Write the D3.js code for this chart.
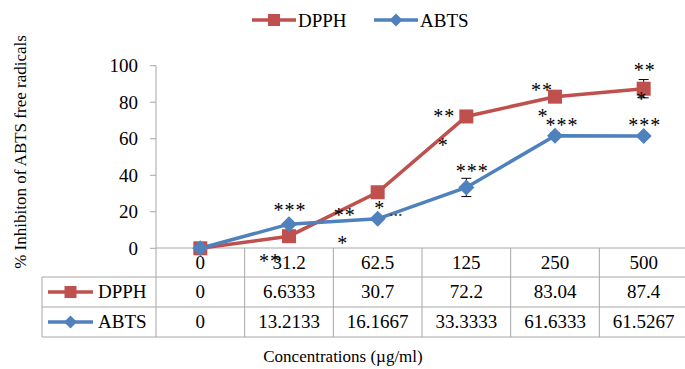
<!DOCTYPE html>
<html>
<head>
<meta charset="utf-8">
<script src="https://cdn.jsdelivr.net/npm/d3@7"></script>
<style>
  body { margin: 0; background: #fff; }
  svg text { font-family: Liberation Serif, DejaVu Serif, Times New Roman, serif; }
</style>
</head>
<body>
<div id="chart"></div>
<script>
// data
var categories = ["0", "31.2", "62.5", "125", "250", "500"];
var dpph = [0, 6.6333, 30.7, 72.2, 83.04, 87.4];
var abts = [0, 13.2133, 16.1667, 33.3333, 61.6333, 61.5267];
var dpphErr = [0.5, 0.5, 0.5, 0.5, 1, 5];
var abtsErr = [0.5, 0.5, 0.5, 5, 1.5, 1];
var dpphLabels = ["0", "6.6333", "30.7", "72.2", "83.04", "87.4"];
var abtsLabels = ["0", "13.2133", "16.1667", "33.3333", "61.6333", "61.5267"];
var yTicks = [0, 20, 40, 60, 80, 100];

// significance stars: category index, x shift, value level
var stars = [
  { i: 1, dx: -19, v: -5.5, t: "**" },
  { i: 1, dx: 1, v: 22.5, t: "***" },
  { i: 2, dx: -33, v: 19.8, t: "**" },
  { i: 2, dx: -35, v: 4.4, t: "*" },
  { i: 2, dx: 2, v: 23.6, t: "*" },
  { i: 3, dx: -22, v: 74.2, t: "**" },
  { i: 3, dx: -23, v: 58.2, t: "*" },
  { i: 3, dx: 6, v: 44, t: "***" },
  { i: 4, dx: -13, v: 88.5, t: "**" },
  { i: 4, dx: -12, v: 74.2, t: "*" },
  { i: 4, dx: 7, v: 69.2, t: "***" },
  { i: 5, dx: 1, v: 99.5, t: "**" },
  { i: 5, dx: -2, v: 83.5, t: "*" },
  { i: 5, dx: 1, v: 69.2, t: "***" }
];

var svgWidth = 685;
var svgHeight = 369;
var red = "#C0504D", blue = "#4F81BD", grid = "#A6A6A6";

var svg = d3.select("#chart")
  .append("svg")
  .attr("width", svgWidth)
  .attr("height", svgHeight);

var left = 156, right = 688, tableLeft = 42;
var rowTop = 248, row1 = 277, row2 = 307, row3 = 337;

var x = d3.scaleBand().domain(categories).range([left, right]);
var y = d3.scaleLinear().domain([0, 100]).range([248.3, 65.7]);
var cx = function(i) { return x(categories[i]) + x.bandwidth() / 2; };

// y axis
svg.append("line")
  .attr("x1", left).attr("x2", left)
  .attr("y1", y(100)).attr("y2", row3)
  .attr("stroke", grid);

svg.selectAll(".ytick")
  .data(yTicks)
  .enter()
  .append("line")
  .attr("x1", left - 6).attr("x2", left)
  .attr("y1", d => y(d)).attr("y2", d => y(d))
  .attr("stroke", grid);

svg.selectAll(".ylab")
  .data(yTicks)
  .enter()
  .append("text")
  .attr("x", 138)
  .attr("y", d => y(d) + 6.5)
  .attr("text-anchor", "end")
  .attr("font-size", 19)
  .text(d => d);

// data table
svg.append("line")
  .attr("x1", left).attr("x2", right)
  .attr("y1", rowTop).attr("y2", rowTop)
  .attr("stroke", grid);

[row1, row2, row3].forEach(function(r) {
  svg.append("line")
    .attr("x1", tableLeft).attr("x2", right)
    .attr("y1", r).attr("y2", r)
    .attr("stroke", grid);
});

svg.append("line")
  .attr("x1", tableLeft).attr("x2", tableLeft)
  .attr("y1", row1).attr("y2", row3)
  .attr("stroke", grid);

svg.selectAll(".vcell")
  .data(categories.slice(1))
  .enter()
  .append("line")
  .attr("x1", d => x(d)).attr("x2", d => x(d))
  .attr("y1", rowTop).attr("y2", row3)
  .attr("stroke", grid);

svg.selectAll(".cat")
  .data(categories)
  .enter()
  .append("text")
  .attr("x", (d, i) => cx(i))
  .attr("y", 268.5)
  .attr("text-anchor", "middle")
  .attr("font-size", 19)
  .text(d => d);

svg.selectAll(".dcell")
  .data(dpphLabels)
  .enter()
  .append("text")
  .attr("x", (d, i) => cx(i))
  .attr("y", 298)
  .attr("text-anchor", "middle")
  .attr("font-size", 19)
  .text(d => d);

svg.selectAll(".acell")
  .data(abtsLabels)
  .enter()
  .append("text")
  .attr("x", (d, i) => cx(i))
  .attr("y", 328)
  .attr("text-anchor", "middle")
  .attr("font-size", 19)
  .text(d => d);

// little legend keys (used in the table and in the top legend)
function square(g, px, py, s) {
  g.append("rect")
    .attr("x", px - s / 2).attr("y", py - s / 2)
    .attr("width", s).attr("height", s)
    .attr("fill", red);
}
function diamond(g, px, py, s) {
  g.append("path")
    .attr("d", `M${px},${py - s / 2}L${px + s / 2},${py}L${px},${py + s / 2}L${px - s / 2},${py}Z`)
    .attr("fill", blue);
}
function key(g, x1, x2, py, color, marker, s) {
  g.append("line")
    .attr("x1", x1).attr("x2", x2)
    .attr("y1", py).attr("y2", py)
    .attr("stroke", color).attr("stroke-width", 3.5);
  marker(g, (x1 + x2) / 2, py, s);
}

key(svg, 48, 93, 292, red, square, 12);
svg.append("text").attr("x", 98).attr("y", 298).attr("font-size", 19).text("DPPH");
key(svg, 48, 93, 322, blue, diamond, 13);
svg.append("text").attr("x", 98).attr("y", 328).attr("font-size", 19).text("ABTS");

// top legend
key(svg, 252, 296, 20, red, square, 12);
svg.append("text").attr("x", 298).attr("y", 27).attr("font-size", 19).text("DPPH");
key(svg, 374, 418, 20, blue, diamond, 13);
svg.append("text").attr("x", 420).attr("y", 27).attr("font-size", 19).text("ABTS");

// lines
var line = d3.line()
  .x((d, i) => cx(i))
  .y(d => y(d));

svg.append("path")
  .datum(dpph)
  .attr("d", line)
  .attr("fill", "none")
  .attr("stroke", red)
  .attr("stroke-width", 3.5);

svg.append("path")
  .datum(abts)
  .attr("d", line)
  .attr("fill", "none")
  .attr("stroke", blue)
  .attr("stroke-width", 3.5);

// error bars
function errorBars(vals, errs) {
  vals.forEach(function(v, i) {
    var e = errs[i];
    svg.append("line")
      .attr("x1", cx(i)).attr("x2", cx(i))
      .attr("y1", y(v - e)).attr("y2", y(v + e))
      .attr("stroke", "#000").attr("stroke-width", 1);
    [v - e, v + e].forEach(function(w) {
      svg.append("line")
        .attr("x1", cx(i) - 5).attr("x2", cx(i) + 5)
        .attr("y1", y(w)).attr("y2", y(w))
        .attr("stroke", "#000").attr("stroke-width", 1);
    });
  });
}
errorBars(dpph, dpphErr);
errorBars(abts, abtsErr);

// markers
dpph.forEach(function(v, i) { square(svg, cx(i), y(v), 14); });
abts.forEach(function(v, i) { diamond(svg, cx(i), y(v), 16); });

// stars
svg.selectAll(".star")
  .data(stars)
  .enter()
  .append("text")
  .attr("x", d => cx(d.i) + d.dx)
  .attr("y", d => y(d.v) + 10)
  .attr("text-anchor", "middle")
  .attr("font-size", 20)
  .attr("letter-spacing", 1)
  .text(d => d.t);

svg.append("text")
  .attr("x", cx(2) + 18)
  .attr("y", y(17.5))
  .attr("text-anchor", "middle")
  .attr("font-size", 18)
  .attr("fill", "#444")
  .text("...");

// axis titles
svg.append("text")
  .attr("transform", "rotate(-90)")
  .attr("x", -152)
  .attr("y", 26)
  .attr("text-anchor", "middle")
  .attr("font-size", 17)
  .text("% Inhibiton of ABTS free radicals");

svg.append("text")
  .attr("x", 343)
  .attr("y", 362)
  .attr("text-anchor", "middle")
  .attr("font-size", 17)
  .text("Concentrations (µg/ml)");
</script>
</body>
</html>
